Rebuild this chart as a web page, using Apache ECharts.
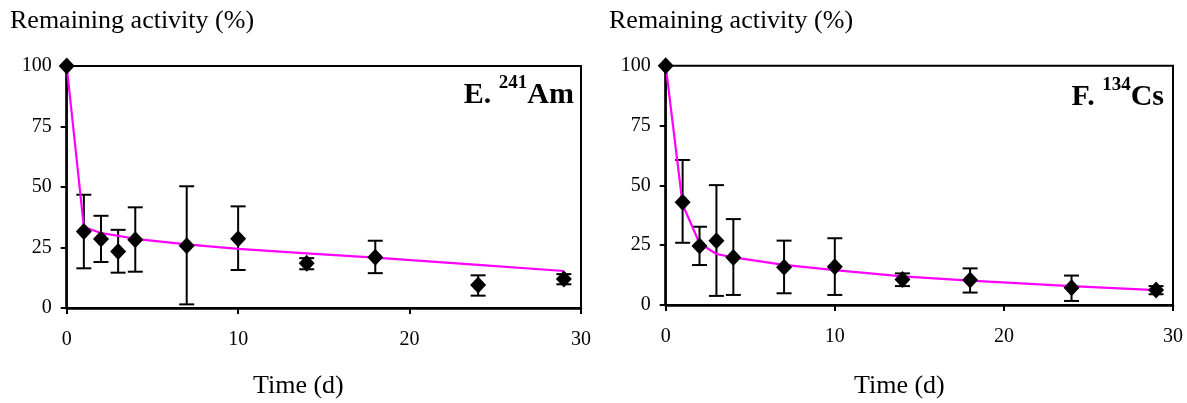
<!DOCTYPE html>
<html>
<head>
<meta charset="utf-8">
<script src="https://cdn.jsdelivr.net/npm/echarts@6/dist/echarts.min.js"></script>
<style>
html,body{margin:0;padding:0;background:#fff;}
#chart{width:1187px;height:403px;}
</style>
</head>
<body>
<div id="chart"></div>
<script>
// ---- data ----
const days = [0, 1, 2, 3, 4, 7, 10, 14, 18, 24, 29];
const xTicks = [0, 10, 20, 30];
const yTicks = [0, 25, 50, 75, 100];

// E. 241Am
const amMean = [100, 31.6, 28.5, 23.3, 28.2, 25.7, 28.6, 18.5, 21.0, 9.5, 12.0];
const amLow  = [null, 16.4, 19.0, 14.6, 15.0, 1.5, 15.7, 16.0, 14.4, 5.1, 9.8];
const amHigh = [null, 46.8, 38.1, 32.3, 41.6, 50.3, 42.0, 20.6, 27.8, 13.5, 14.0];
const amFit  = [100, 33.5, 31.0, 29.8, 28.6, 26.3, 24.4, 22.6, 20.8, 17.8, 15.3];

// F. 134Cs
const csMean = [100, 42.9, 24.7, 26.9, 19.9, 15.8, 16.0, 10.7, 10.4, 7.2, 6.3];
const csLow  = [null, 26.0, 16.7, 3.8, 4.2, 4.9, 4.2, 7.9, 5.2, 1.7, 4.5];
const csHigh = [null, 60.6, 32.7, 50.1, 35.9, 26.9, 27.9, 13.2, 15.3, 12.3, 7.9];
const csFit  = [100, 42.0, 25.8, 21.3, 19.9, 16.8, 14.6, 12.0, 10.2, 7.9, 6.2];

const yTitle = 'Remaining activity (%)';
const xTitle = 'Time (d)';
const panelA = ['E. ', '241', 'Am'];
const panelB = ['F. ', '134', 'Cs'];

// ---- chart ----
const FONT = "'Liberation Serif', 'Times New Roman', serif";
const chart = echarts.init(document.getElementById('chart'), null, {renderer: 'canvas'});

function pairs(xs, ys) { return xs.map((x, i) => [x, ys[i]]); }
function errData(xs, lo, hi) {
  const out = [];
  xs.forEach((x, i) => { if (lo[i] != null && hi[i] != null) out.push([x, lo[i], hi[i]]); });
  return out;
}
function renderErr(params, api) {
  const x = api.value(0), lo = api.value(1), hi = api.value(2);
  const a = api.coord([x, lo]), b = api.coord([x, hi]);
  const w = 7.5;
  const st = {stroke: '#000', lineWidth: 2};
  return {type: 'group', children: [
    {type: 'line', shape: {x1: a[0], y1: a[1], x2: b[0], y2: b[1]}, style: st},
    {type: 'line', shape: {x1: a[0] - w, y1: a[1], x2: a[0] + w, y2: a[1]}, style: st},
    {type: 'line', shape: {x1: b[0] - w, y1: b[1], x2: b[0] + w, y2: b[1]}, style: st}
  ]};
}

function xAxisCfg(gi) {
  return {
    gridIndex: gi, type: 'value', min: xTicks[0], max: xTicks[xTicks.length - 1], interval: 10,
    axisLine: {show: true, onZero: false, lineStyle: {color: '#000', width: 2.5}},
    axisTick: {show: true, inside: false, length: 6, lineStyle: {color: '#000', width: 2}},
    axisLabel: {color: '#000', fontFamily: FONT, fontSize: 20, margin: 22},
    splitLine: {show: false}
  };
}
function yAxisCfg(gi) {
  return {
    gridIndex: gi, type: 'value', min: yTicks[0], max: yTicks[yTicks.length - 1], interval: 25,
    axisLine: {show: true, onZero: false, lineStyle: {color: '#000', width: 2.5}},
    axisTick: {show: true, inside: false, length: 6, lineStyle: {color: '#000', width: 2}},
    axisLabel: {color: '#000', fontFamily: FONT, fontSize: 20, margin: 15},
    splitLine: {show: false}
  };
}

const richPanel = {
  b: {fontFamily: FONT, fontSize: 30, fontWeight: 'bold', color: '#000', lineHeight: 42},
  s: {fontFamily: FONT, fontSize: 19, fontWeight: 'bold', color: '#000', lineHeight: 19, verticalAlign: 'top'}
};

function seriesFor(gi, mean, lo, hi, fit) {
  return [
    {type: 'custom', xAxisIndex: gi, yAxisIndex: gi, renderItem: renderErr,
     data: errData(days, lo, hi), encode: {x: 0, y: [1, 2]}, z: 2, clip: false, silent: true},
    {type: 'line', xAxisIndex: gi, yAxisIndex: gi, data: pairs(days, fit), showSymbol: false,
     symbol: 'none', lineStyle: {color: '#FF00FF', width: 2.2}, z: 3, silent: true, animation: false},
    {type: 'scatter', xAxisIndex: gi, yAxisIndex: gi, data: pairs(days, mean), symbol: 'diamond',
     symbolSize: [16, 17], itemStyle: {color: '#000', opacity: 1}, z: 4, clip: false, silent: true}
  ];
}

const option = {
  animation: false,
  backgroundColor: '#fff',
  title: [
    {text: yTitle, left: 10, top: 8, padding: 0,
     textStyle: {fontFamily: FONT, fontSize: 26, fontWeight: 'normal', color: '#000'}},
    {text: yTitle, left: 609, top: 8, padding: 0,
     textStyle: {fontFamily: FONT, fontSize: 26, fontWeight: 'normal', color: '#000'}},
    {text: xTitle, left: 253, top: 373, padding: 0,
     textStyle: {fontFamily: FONT, fontSize: 26, fontWeight: 'normal', color: '#000'}},
    {text: xTitle, left: 854, top: 373, padding: 0,
     textStyle: {fontFamily: FONT, fontSize: 26, fontWeight: 'normal', color: '#000'}},
    {text: '{b|' + panelA[0] + '}{s|' + panelA[1] + '}{b|' + panelA[2] + '}',
     right: 1187 - 574, top: 74, padding: 0, textStyle: {rich: richPanel}},
    {text: '{b|' + panelB[0] + '}{s|' + panelB[1] + '}{b|' + panelB[2] + '}',
     right: 1187 - 1164, top: 76, padding: 0, textStyle: {rich: richPanel}}
  ],
  grid: [
    {left: 66.7, right: 1187 - 581, top: 66, bottom: 403 - 308, show: true,
     borderColor: '#000', borderWidth: 2, backgroundColor: 'transparent'},
    {left: 665.7, right: 1187 - 1173, top: 65.7, bottom: 403 - 305, show: true,
     borderColor: '#000', borderWidth: 2, backgroundColor: 'transparent'}
  ],
  xAxis: [xAxisCfg(0), xAxisCfg(1)],
  yAxis: [yAxisCfg(0), yAxisCfg(1)],
  series: [].concat(
    seriesFor(0, amMean, amLow, amHigh, amFit),
    seriesFor(1, csMean, csLow, csHigh, csFit)
  )
};
chart.setOption(option);
</script>
</body>
</html>
